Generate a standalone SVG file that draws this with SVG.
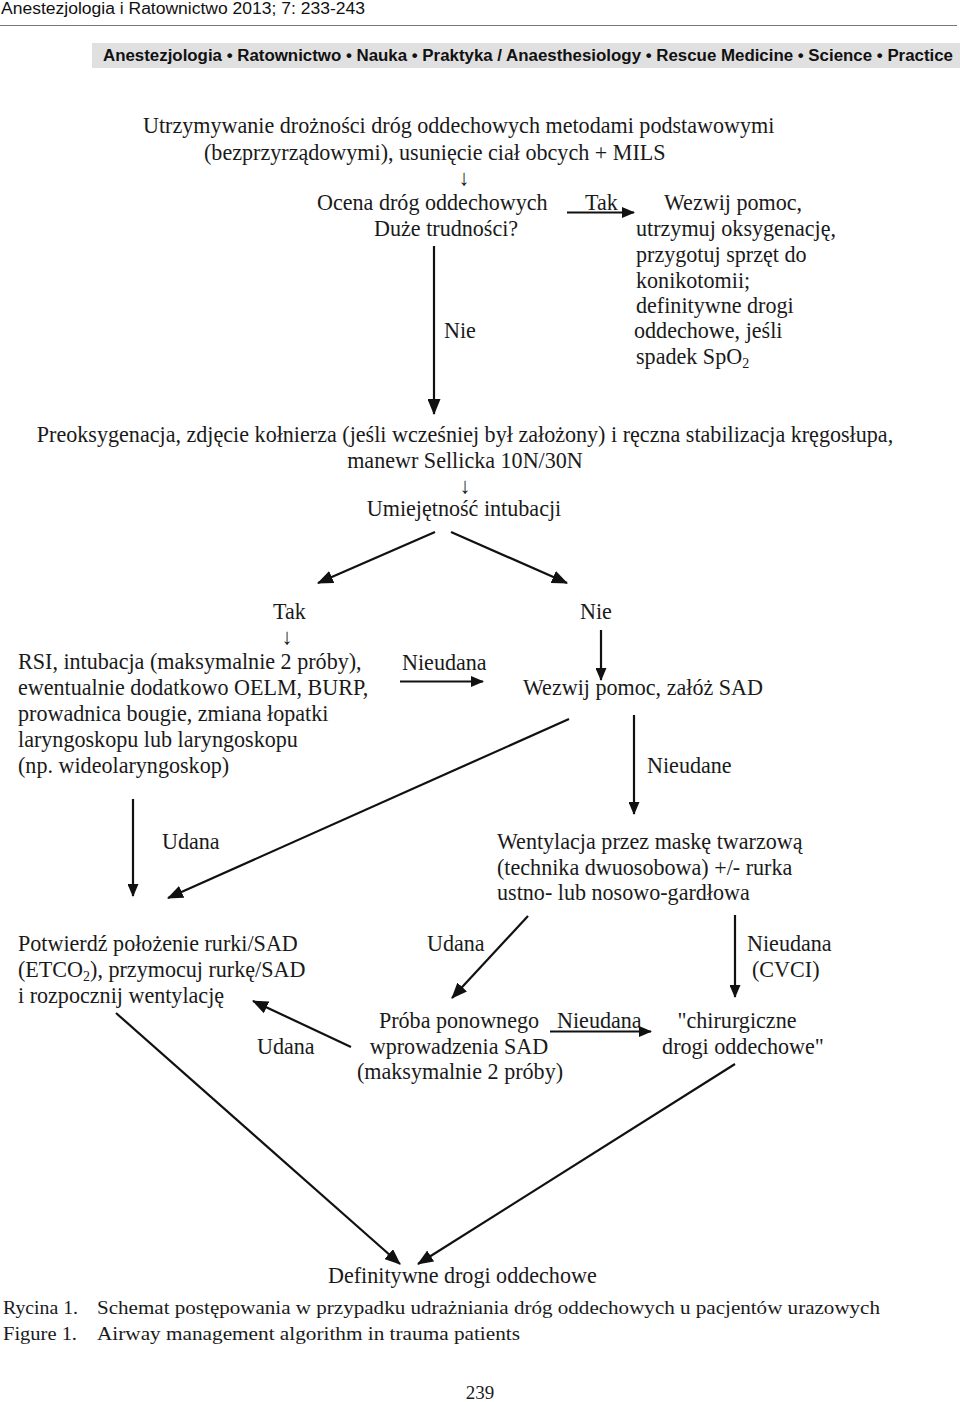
<svg xmlns="http://www.w3.org/2000/svg" width="960" height="1402" viewBox="0 0 960 1402">
<style>
.t{font-family:"Liberation Serif","Times New Roman",serif;font-size:22.1px;fill:#1a1a1a}
.m{text-anchor:middle}
.hd{font-family:"Liberation Sans",Arial,sans-serif;fill:#111}
.cap{font-family:"Liberation Serif","Times New Roman",serif;font-size:19px;fill:#1a1a1a}
.ln{stroke:#111;stroke-width:2.2;fill:none}
.sub{font-size:14px}
</style>
<defs>
<marker id="ah" markerUnits="userSpaceOnUse" markerWidth="16" markerHeight="13" viewBox="0 0 16 13" refX="15" refY="6.5" orient="auto">
<path d="M0,0 L16,6.5 L0,13 z" fill="#111"/>
</marker>
<marker id="as" markerUnits="userSpaceOnUse" markerWidth="13" markerHeight="11" viewBox="0 0 13 11" refX="12" refY="5.5" orient="auto">
<path d="M0,0 L13,5.5 L0,11 z" fill="#111"/>
</marker>
</defs>
<rect width="960" height="1402" fill="#fff"/>

<g id="header">
<text class="hd" x="1" y="14" font-size="16" textLength="364" lengthAdjust="spacingAndGlyphs">Anestezjologia i Ratownictwo 2013; 7: 233-243</text>
<line x1="0" y1="25.5" x2="957" y2="25.5" stroke="#777" stroke-width="1"/>
<rect x="92" y="43" width="868" height="25" fill="#e0e0e0"/>
<text class="hd" x="103" y="61" font-size="16" font-weight="bold" textLength="850" lengthAdjust="spacingAndGlyphs">Anestezjologia • Ratownictwo • Nauka • Praktyka / Anaesthesiology • Rescue Medicine • Science • Practice</text>
</g>

<g id="n1">
<text class="t" x="143" y="133">Utrzymywanie drożności dróg oddechowych metodami podstawowymi</text>
<text class="t" x="204" y="160">(bezprzyrządowymi), usunięcie ciał obcych + MILS</text>
<text class="t m" x="464" y="185">↓</text>
</g>

<g id="n2">
<text class="t" x="317" y="210">Ocena dróg oddechowych</text>
<text class="t" x="374" y="236">Duże trudności?</text>
</g>

<g id="n3">
<text class="t" x="664" y="210">Wezwij pomoc,</text>
<text class="t" x="636" y="236">utrzymuj oksygenację,</text>
<text class="t" x="636" y="262">przygotuj sprzęt do</text>
<text class="t" x="636" y="288">konikotomii;</text>
<text class="t" x="636" y="313">definitywne drogi</text>
<text class="t" x="634" y="338">oddechowe, jeśli</text>
<text class="t" x="636" y="364">spadek SpO<tspan class="sub" dy="4">2</tspan></text>
</g>

<g id="n4">
<text class="t m" x="465" y="442">Preoksygenacja, zdjęcie kołnierza (jeśli wcześniej był założony) i ręczna stabilizacja kręgosłupa,</text>
<text class="t m" x="465" y="468">manewr Sellicka 10N/30N</text>
<text class="t m" x="465" y="493">↓</text>
<text class="t m" x="464" y="516">Umiejętność intubacji</text>
</g>

<g id="n5">
<text class="t" x="18" y="669">RSI, intubacja (maksymalnie 2 próby),</text>
<text class="t" x="18" y="695">ewentualnie dodatkowo OELM, BURP,</text>
<text class="t" x="18" y="721">prowadnica bougie, zmiana łopatki</text>
<text class="t" x="18" y="747">laryngoskopu lub laryngoskopu</text>
<text class="t" x="18" y="773">(np. wideolaryngoskop)</text>
</g>

<g id="n6">
<text class="t" x="523" y="695">Wezwij pomoc, załóż SAD</text>
</g>

<g id="n7">
<text class="t" x="497" y="849">Wentylacja przez maskę twarzową</text>
<text class="t" x="497" y="875">(technika dwuosobowa) +/- rurka</text>
<text class="t" x="497" y="900">ustno- lub nosowo-gardłowa</text>
</g>

<g id="n8">
<text class="t" x="18" y="951">Potwierdź położenie rurki/SAD</text>
<text class="t" x="18" y="977">(ETCO<tspan class="sub" dy="4">2</tspan><tspan dy="-4">), przymocuj rurkę/SAD</tspan></text>
<text class="t" x="18" y="1003">i rozpocznij wentylację</text>
</g>

<g id="n9">
<text class="t m" x="459" y="1028">Próba ponownego</text>
<text class="t m" x="459" y="1054">wprowadzenia SAD</text>
<text class="t m" x="460" y="1079">(maksymalnie 2 próby)</text>
</g>

<g id="n10">
<text class="t m" x="737" y="1028">"chirurgiczne</text>
<text class="t m" x="743" y="1054">drogi oddechowe"</text>
</g>

<g id="n11">
<text class="t" x="328" y="1283">Definitywne drogi oddechowe</text>
</g>

<g id="connectors">
<path class="ln" d="M567,212.5 H634" marker-end="url(#as)"/>
<path class="ln" d="M434,246 V414" marker-end="url(#ah)"/>
<path class="ln" d="M435,532 L318,583" marker-end="url(#ah)"/>
<path class="ln" d="M451,532 L567,583" marker-end="url(#ah)"/>
<path class="ln" d="M601,630 V680" marker-end="url(#as)"/>
<path class="ln" d="M400,681.5 H483" marker-end="url(#as)"/>
<path class="ln" d="M569,719 L168,898" marker-end="url(#ah)"/>
<path class="ln" d="M634,715 V814" marker-end="url(#as)"/>
<path class="ln" d="M133,799 V896" marker-end="url(#as)"/>
<path class="ln" d="M735,915 V997" marker-end="url(#as)"/>
<path class="ln" d="M528,916 L452,998" marker-end="url(#ah)"/>
<path class="ln" d="M351,1047 L253,1001" marker-end="url(#ah)"/>
<path class="ln" d="M550,1031.5 H651" marker-end="url(#as)"/>
<path class="ln" d="M735,1064 L418,1264" marker-end="url(#ah)"/>
<path class="ln" d="M116,1013 L400,1264" marker-end="url(#ah)"/>
</g>

<g id="labels">
<text class="t" x="585" y="210">Tak</text>
<text class="t" x="444" y="338">Nie</text>
<text class="t" x="273" y="619">Tak</text>
<text class="t m" x="287" y="644">↓</text>
<text class="t" x="580" y="619">Nie</text>
<text class="t" x="402" y="670">Nieudana</text>
<text class="t" x="647" y="773">Nieudane</text>
<text class="t" x="162" y="849">Udana</text>
<text class="t" x="427" y="951">Udana</text>
<text class="t" x="747" y="951">Nieudana</text>
<text class="t" x="752" y="977">(CVCI)</text>
<text class="t" x="257" y="1054">Udana</text>
<text class="t" x="557" y="1028">Nieudana</text>
</g>

<g id="caption">
<text class="cap" x="3" y="1314" textLength="75" lengthAdjust="spacingAndGlyphs">Rycina 1.</text>
<text class="cap" x="97" y="1314" textLength="783" lengthAdjust="spacingAndGlyphs">Schemat postępowania w przypadku udrażniania dróg oddechowych u pacjentów urazowych</text>
<text class="cap" x="3" y="1340" textLength="74" lengthAdjust="spacingAndGlyphs">Figure 1.</text>
<text class="cap" x="97" y="1340" textLength="423" lengthAdjust="spacingAndGlyphs">Airway management algorithm in trauma patients</text>
<text class="cap m" x="480" y="1399" font-size="12">239</text>
</g>
</svg>
